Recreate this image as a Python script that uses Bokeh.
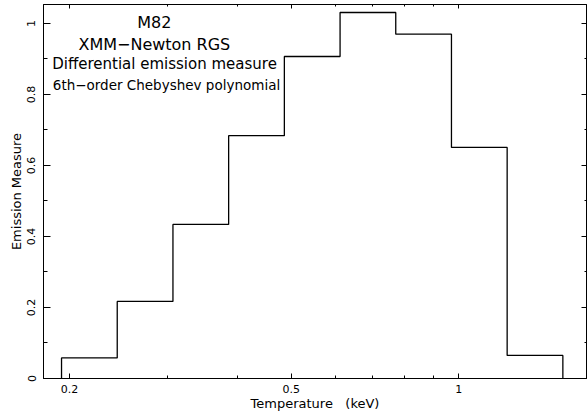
import numpy as np
from bokeh.plotting import figure
from bokeh.models import (Range1d, FixedTicker, LogAxis, LinearAxis,
                          CustomJSTickFormatter)
from bokeh.core.properties import value
from bokeh.embed import file_html
from bokeh.resources import INLINE

# ---- data ----
bin_edges = [0.1935, 0.2436, 0.3067, 0.3861, 0.4861, 0.6120, 0.7704, 0.9699, 1.2210, 1.5372]
emission = [0.058, 0.217, 0.434, 0.684, 0.907, 1.031, 0.970, 0.651, 0.065]

x_major = [0.2, 0.5, 1]
x_minor = [0.3, 0.4, 0.6, 0.7, 0.8, 0.9]
y_major = [0, 0.2, 0.4, 0.6, 0.8, 1]
y_minor = [0.1, 0.3, 0.5, 0.7, 0.9]

titles = ["M82", "XMM\u2212Newton RGS", "Differential emission measure",
          "6th\u2212order Chebyshev polynomial"]

FONT = "DejaVu Sans"

p = figure(width=587, height=417, x_axis_type="log",
           x_range=Range1d(0.1796, 1.695), y_range=Range1d(0, 1.0535),
           output_backend="svg", toolbar_location=None,
           min_border_left=43, min_border_right=1, min_border_top=4,
           min_border_bottom=39)
p.grid.visible = False
p.background_fill_color = "white"
p.border_fill_color = "white"
p.outline_line_color = "black"
p.outline_line_width = 1

# histogram outline built from the bins
xs = [bin_edges[0]]
ys = [0.0]
for i, v in enumerate(emission):
    xs += [bin_edges[i], bin_edges[i + 1]]
    ys += [v, v]
xs.append(bin_edges[-1])
ys.append(0.0)
p.line(xs, ys, line_color="black", line_width=1.3)

fmt = CustomJSTickFormatter(code="return tick.toString();")
blank = CustomJSTickFormatter(code="return '';")

# bottom axis
xa = p.xaxis[0]
xa.ticker = FixedTicker(ticks=x_major, minor_ticks=x_minor)
xa.formatter = fmt
xa.major_tick_in = 5
xa.major_tick_out = 0
xa.minor_tick_in = 3
xa.minor_tick_out = 0
xa.axis_line_color = "black"
xa.major_label_text_font = FONT
xa.major_label_text_font_size = "11px"
xa.major_label_text_color = "black"
xa.major_label_standoff = 6
xa.axis_label = "Temperature\u00a0\u00a0 (keV)"
xa.axis_label_text_font = FONT
xa.axis_label_text_font_size = "13px"
xa.axis_label_text_font_style = "normal"
xa.axis_label_text_color = "black"
xa.axis_label_standoff = 0

# left axis
ya = p.yaxis[0]
ya.ticker = FixedTicker(ticks=y_major, minor_ticks=y_minor)
ya.formatter = fmt
ya.major_tick_in = 7
ya.major_tick_out = 0
ya.minor_tick_in = 4
ya.minor_tick_out = 0
ya.axis_line_color = "black"
ya.major_label_text_font = FONT
ya.major_label_text_font_size = "11px"
ya.major_label_text_color = "black"
ya.major_label_orientation = "vertical"
ya.major_label_standoff = 8
ya.axis_label = "Emission Measure"
ya.axis_label_text_font = FONT
ya.axis_label_text_font_size = "13px"
ya.axis_label_text_font_style = "normal"
ya.axis_label_text_color = "black"
ya.axis_label_standoff = 1

# top and right axes: ticks only
top = LogAxis(ticker=FixedTicker(ticks=x_major, minor_ticks=x_minor),
              formatter=blank,
              major_tick_in=4, major_tick_out=0, minor_tick_in=2, minor_tick_out=0,
              major_label_text_font_size="1px", major_label_standoff=0,
              axis_line_color="black")
p.add_layout(top, "above")
right = LinearAxis(ticker=FixedTicker(ticks=y_major, minor_ticks=y_minor),
                   formatter=blank,
                   major_tick_in=5, major_tick_out=0, minor_tick_in=2, minor_tick_out=0,
                   major_label_text_font_size="1px", major_label_standoff=0,
                   axis_line_color="black")
p.add_layout(right, "right")

# annotation texts
p.text(x=[0.2840, 0.2840], y=[1.003, 0.941], text=titles[:2],
       text_font=value(FONT), text_font_size="16px", text_align="center",
       text_baseline="middle", text_color="black")
p.text(x=[0.2962], y=[0.885], text=[titles[2]],
       text_font=value(FONT), text_font_size="15px", text_align="center",
       text_baseline="middle", text_color="black")
p.text(x=[0.2986], y=[0.828], text=[titles[3]],
       text_font=value(FONT), text_font_size="13.5px", text_align="center",
       text_baseline="middle", text_color="black")

open("out.html", "w").write(file_html(p, INLINE))
